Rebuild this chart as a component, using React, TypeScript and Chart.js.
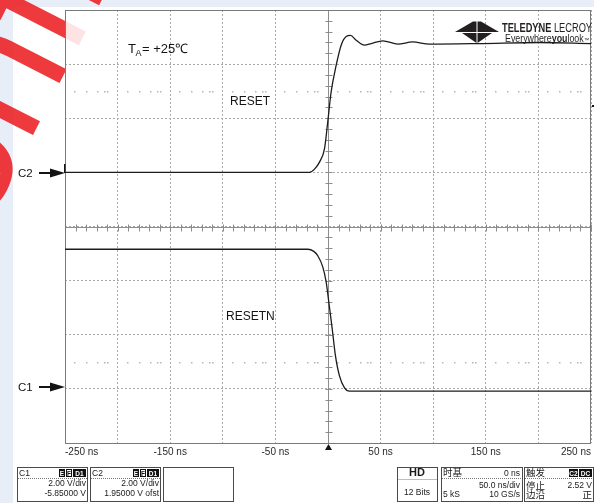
import React, { useEffect, useRef } from 'react';
import { Chart, registerables } from 'chart.js';

Chart.register(...registerables);

// ---- data (time in ns, level in screen divisions, 0 = bottom graticule line) ----
const resetTimeNs = [-250, -17.6, -12.8, -8.1, -3.3, -0.2, 3.0, 7.8, 12.5, 17.3, 21.4, 26.8, 34.7, 41.1, 52.1, 66.4, 80.3, 96.5, 144, 201, 250];
const resetDiv = [5.0, 5.0, 5.06, 5.19, 5.44, 5.94, 6.49, 6.98, 7.35, 7.51, 7.53, 7.44, 7.35, 7.38, 7.43, 7.37, 7.41, 7.37, 7.38, 7.40, 7.38];
const resetnTimeNs = [-250, -19.2, -13.5, -9.7, -4.9, -1.7, 0.8, 4.0, 7.1, 10.9, 15.7, 20.4, 250];
const resetnDiv = [3.58, 3.58, 3.54, 3.46, 3.25, 2.97, 2.60, 2.11, 1.61, 1.24, 1.02, 0.96, 0.96];
const xTickLabels = [-250, -150, -50, 50, 150, 250];
const dotLevels = [6.5, 1.5];

const c1Info = ['C1', '2.00 V/div', '-5.85000 V'];
const c2Info = ['C2', '2.00 V/div', '1.95000 V ofst'];
const timebaseInfo = ['时基', '0 ns', '50.0 ns/div', '5 kS', '10 GS/s'];
const triggerInfo = ['触发', '停止', '2.52 V', '边沿', '正'];

const FONT = '"Liberation Sans", Arial, sans-serif';
const CJK = '"Noto Sans CJK SC", "Liberation Sans", sans-serif';

const scopePlugin = {
  id: 'scope',
  beforeDraw(chart: any) {
    const ctx = chart.ctx as CanvasRenderingContext2D;
    const { left, right, top, bottom } = chart.chartArea;
    ctx.save();
    ctx.fillStyle = '#ffffff';
    ctx.fillRect(0, 0, chart.width, chart.height);
    ctx.fillStyle = '#e8eef7';
    ctx.fillRect(0, 0, chart.width, 7);
    ctx.fillRect(0, 0, 13, chart.height);
    // watermark
    ctx.save();
    ctx.translate(-74, 345);
    ctx.rotate((-63 * Math.PI) / 180);
    ctx.font = `175px ${FONT}`;
    ctx.fillStyle = 'rgba(236,36,40,0.9)';
    ctx.textBaseline = 'alphabetic';
    ctx.fillText('Confidential', 0, 0);
    ctx.restore();
    ctx.fillStyle = 'rgba(255,255,255,0.86)';
    ctx.fillRect(left, top, right - left, bottom - top);
    ctx.restore();
  },
  beforeDatasetsDraw(chart: any) {
    const ctx = chart.ctx as CanvasRenderingContext2D;
    const xs = chart.scales.x;
    const ys = chart.scales.y;
    const { left, right, top, bottom } = chart.chartArea;
    ctx.save();
    // dotted marker rows
    ctx.fillStyle = '#b5b5b5';
    for (const lv of dotLevels) {
      const y = Math.round(ys.getPixelForValue(lv));
      for (let d = 0; d < 10; d++) {
        const x0 = xs.getPixelForValue(-250 + d * 50);
        for (const off of [9, 21, 32, 39, 42]) ctx.fillRect(Math.round(x0 + off), y, 1.5, 1.5);
      }
    }
    // centre crosshair with minor ticks
    const cx = Math.round(xs.getPixelForValue(0)) + 0.5;
    const cy = Math.round(ys.getPixelForValue(4)) + 0.5;
    ctx.strokeStyle = '#8c8c8c';
    ctx.lineWidth = 1;
    ctx.beginPath();
    ctx.moveTo(cx, top);
    ctx.lineTo(cx, bottom);
    ctx.moveTo(left, cy);
    ctx.lineTo(right, cy);
    for (let i = 0; i <= 40; i++) {
      const y = Math.round(ys.getPixelForValue(i * 0.2)) + 0.5;
      ctx.moveTo(cx - 3, y);
      ctx.lineTo(cx + 4, y);
    }
    for (let i = 0; i <= 50; i++) {
      const x = Math.round(xs.getPixelForValue(-250 + i * 10)) + 0.5;
      ctx.moveTo(x, cy - 3);
      ctx.lineTo(x, cy + 4);
    }
    ctx.stroke();
    // frame
    ctx.strokeStyle = '#7a7a7a';
    ctx.strokeRect(left + 0.5, top + 0.5, right - left - 1, bottom - top);
    ctx.restore();
  },
  afterDraw(chart: any) {
    const ctx = chart.ctx as CanvasRenderingContext2D;
    const xs = chart.scales.x;
    const { right, bottom } = chart.chartArea;
    ctx.save();
    ctx.fillStyle = '#141414';
    ctx.textBaseline = 'alphabetic';
    ctx.textAlign = 'left';

    // T_A = +25℃
    let x = 128;
    ctx.font = `13px ${FONT}`;
    ctx.fillText('T', x, 52.5);
    x += ctx.measureText('T').width - 0.5;
    ctx.font = `9px ${FONT}`;
    ctx.fillText('A', x, 55.5);
    x += ctx.measureText('A').width + 0.5;
    ctx.font = `13px ${FONT}`;
    ctx.fillText('= +25℃', x, 52.5);

    ctx.font = `12px ${FONT}`;
    ctx.fillText('RESET', 230, 104.5);
    ctx.fillText('RESETN', 226, 319.5);

    // channel arrows
    const arrow = (label: string, y: number) => {
      ctx.font = `11.5px ${FONT}`;
      ctx.fillStyle = '#141414';
      ctx.fillText(label, 18, y + 4);
      ctx.strokeStyle = '#141414';
      ctx.lineWidth = 2;
      ctx.beginPath();
      ctx.moveTo(39, y);
      ctx.lineTo(52, y);
      ctx.stroke();
      ctx.beginPath();
      ctx.moveTo(50, y - 4.5);
      ctx.lineTo(65, y);
      ctx.lineTo(50, y + 4.5);
      ctx.closePath();
      ctx.fill();
    };
    arrow('C2', 173);
    arrow('C1', 387);
    ctx.fillRect(64, 164, 1.5, 9);

    // trigger position marker
    const tx = Math.round(xs.getPixelForValue(0)) + 0.5;
    ctx.beginPath();
    ctx.moveTo(tx, bottom + 1);
    ctx.lineTo(tx - 3.5, bottom + 7);
    ctx.lineTo(tx + 3.5, bottom + 7);
    ctx.closePath();
    ctx.fill();
    ctx.fillRect(right + 1, 105, 2, 2);

    // logo
    ctx.fillStyle = '#231f20';
    const poly = (pts: number[][]) => {
      ctx.beginPath();
      ctx.moveTo(pts[0][0], pts[0][1]);
      for (let i = 1; i < pts.length; i++) ctx.lineTo(pts[i][0], pts[i][1]);
      ctx.closePath();
      ctx.fill();
    };
    poly([[455, 32], [473, 21.5], [476.5, 21.5], [476.5, 32]]);
    poly([[499, 32], [481, 21.5], [477.5, 21.5], [477.5, 32]]);
    poly([[462, 33], [476.5, 33], [476.5, 43]]);
    poly([[492, 33], [477.5, 33], [477.5, 43]]);
    const fitText = (parts: [string, string][], x0: number, y0: number, w: number) => {
      let total = 0;
      for (const [t, f] of parts) { ctx.font = f; total += ctx.measureText(t).width; }
      ctx.save();
      ctx.translate(x0, y0);
      ctx.scale(w / total, 1);
      let cx = 0;
      for (const [t, f] of parts) { ctx.font = f; ctx.fillText(t, cx, 0); cx += ctx.measureText(t).width; }
      ctx.restore();
    };
    fitText([['TELEDYNE', `bold 12px ${FONT}`], [' LECROY', `12px ${FONT}`]], 502, 31.5, 90);
    fitText([['Everywhere', `10px ${FONT}`], ['you', `bold 10px ${FONT}`], ['look', `10px ${FONT}`], ['™', `6px ${FONT}`]], 505, 41.5, 84);

    // info boxes
    ctx.lineWidth = 1;
    const box = (bx: number, bw: number) => {
      ctx.strokeStyle = '#4a4a4a';
      ctx.strokeRect(bx + 0.5, 467.5, bw, 34);
    };
    const dashed = (x0: number, x1: number, y: number) => {
      ctx.save();
      ctx.strokeStyle = '#777';
      ctx.setLineDash([1, 1]);
      ctx.beginPath();
      ctx.moveTo(x0, y + 0.5);
      ctx.lineTo(x1, y + 0.5);
      ctx.stroke();
      ctx.restore();
    };
    const t = (s: string, px: number, py: number, align: CanvasTextAlign, font: string, color = '#1a1a1a') => {
      ctx.font = font;
      ctx.textAlign = align;
      ctx.fillStyle = color;
      ctx.fillText(s, px, py);
    };
    const badge = (s: string, bx: number, bw: number, inverted: boolean) => {
      if (inverted) {
        ctx.fillStyle = '#111';
        ctx.fillRect(bx, 469, bw, 8);
      } else {
        ctx.strokeStyle = '#111';
        ctx.strokeRect(bx + 0.5, 469.5, bw - 1, 7);
      }
      t(s, bx + bw / 2, 476, 'center', `bold 6.5px ${FONT}`, inverted ? '#fff' : '#111');
    };
    const f8 = `8.5px ${FONT}`;
    const cj = `9.5px ${CJK}`;

    // C1
    box(17, 70);
    t(c1Info[0], 19, 475.5, 'left', f8);
    badge('E', 59, 6, true); badge('F', 66, 6, false); badge('D1', 73, 13, true);
    dashed(18, 87, 478);
    t(c1Info[1], 86, 486, 'right', f8);
    t(c1Info[2], 86, 495.5, 'right', f8);
    // C2
    box(90, 70);
    t(c2Info[0], 92, 475.5, 'left', f8);
    badge('E', 133, 6, true); badge('F', 140, 6, false); badge('D1', 147, 12, true);
    dashed(91, 160, 478);
    t(c2Info[1], 159, 486, 'right', f8);
    t(c2Info[2], 159, 495.5, 'right', f8);
    // empty
    box(163, 70);
    // HD
    box(397, 40);
    t('HD', 417, 476, 'center', `bold 11px ${FONT}`);
    ctx.fillStyle = '#9fd49f';
    ctx.fillRect(398, 479, 39, 1);
    t('12 Bits', 417, 494.5, 'center', f8);
    // timebase
    box(441, 81);
    t(timebaseInfo[0], 443, 476, 'left', cj);
    t(timebaseInfo[1], 520, 475.5, 'right', f8);
    dashed(442, 522, 478);
    t(timebaseInfo[2], 520, 488, 'right', f8);
    t(timebaseInfo[3], 443, 497, 'left', f8);
    t(timebaseInfo[4], 520, 497, 'right', f8);
    // trigger
    box(524, 69);
    t(triggerInfo[0], 526, 476, 'left', cj);
    badge('C2', 569, 9, true); badge('DC', 579, 13, true);
    dashed(525, 593, 478);
    t(triggerInfo[1], 526, 489, 'left', cj);
    t(triggerInfo[2], 592, 488, 'right', f8);
    t(triggerInfo[3], 526, 498, 'left', cj);
    t(triggerInfo[4], 592, 498, 'right', cj);
    ctx.restore();
  },
};

export default function App() {
  const ref = useRef<HTMLCanvasElement | null>(null);
  useEffect(() => {
    if (!ref.current) return;
    const chart = new Chart(ref.current, {
      type: 'line',
      data: {
        datasets: [
          {
            label: 'RESET',
            data: resetTimeNs.map((x, i) => ({ x, y: resetDiv[i] })),
            borderColor: '#1c1c1c',
            borderWidth: 1.3,
            pointRadius: 0,
            cubicInterpolationMode: 'monotone',
          },
          {
            label: 'RESETN',
            data: resetnTimeNs.map((x, i) => ({ x, y: resetnDiv[i] })),
            borderColor: '#1c1c1c',
            borderWidth: 1.3,
            pointRadius: 0,
            cubicInterpolationMode: 'monotone',
          },
        ],
      },
      options: {
        responsive: false,
        animation: false,
        devicePixelRatio: 1,
        layout: { padding: { left: 65, right: 3, top: 10, bottom: 44 } },
        plugins: { legend: { display: false }, tooltip: { enabled: false } },
        scales: {
          x: {
            type: 'linear',
            min: -250,
            max: 250,
            afterFit: (s: any) => { s.height = 16; },
            ticks: {
              stepSize: 50,
              autoSkip: false,
              maxRotation: 0,
              align: 'inner',
              padding: 3,
              color: '#2a2a2a',
              font: { family: FONT, size: 10 },
              callback: (v: any) => (xTickLabels.includes(Number(v)) ? `${v} ns` : ''),
            },
            grid: { color: '#a9a9a9', lineWidth: 1, drawTicks: false },
            border: { display: false, dash: [2, 2] },
          },
          y: {
            type: 'linear',
            min: 0,
            max: 8,
            afterFit: (s: any) => { s.width = 0; },
            ticks: { display: false, stepSize: 1 },
            grid: { color: '#a9a9a9', lineWidth: 1, drawTicks: false },
            border: { display: false, dash: [2, 2] },
          },
        },
      } as any,
      plugins: [scopePlugin],
    });
    return () => chart.destroy();
  }, []);
  return (
    <div style={{ position: 'fixed', left: 0, top: 0, width: 594, height: 503, background: '#fff' }}>
      <canvas ref={ref} width={594} height={503} style={{ display: 'block' }} />
    </div>
  );
}
